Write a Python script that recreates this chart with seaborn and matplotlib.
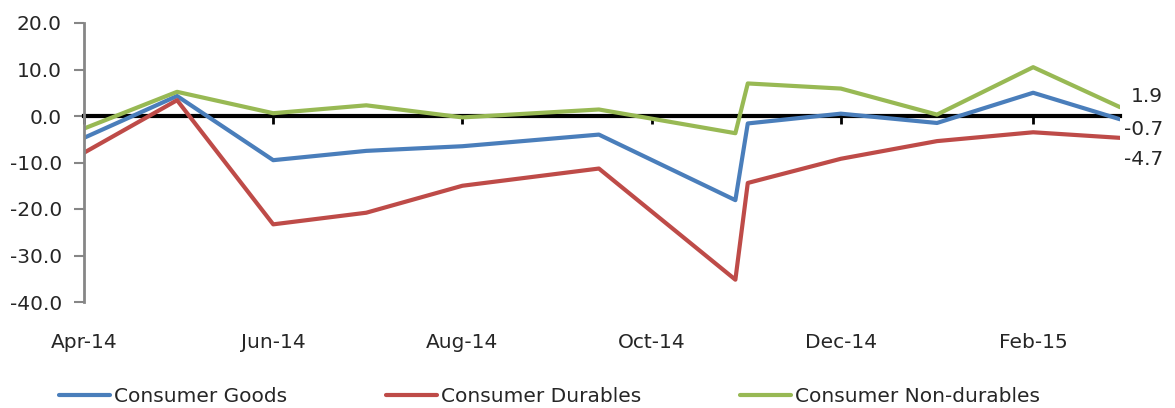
import pandas as pd
import matplotlib.pyplot as plt
import matplotlib.dates as mdates
import seaborn as sns

# monthly growth rates (%)
dates = pd.to_datetime(["2014-04-01", "2014-05-01", "2014-06-01", "2014-07-01",
                        "2014-08-01", "2014-09-14", "2014-10-28", "2014-11-01",
                        "2014-12-01", "2015-01-01", "2015-02-01", "2015-03-01"])
goods = [-4.7, 4.3, -9.5, -7.5, -6.5, -4.0, -18.1, -1.6, 0.5, -1.5, 5.0, -0.7]
durables = [-7.9, 3.4, -23.3, -20.8, -15.0, -11.3, -35.2, -14.4, -9.2, -5.4, -3.5, -4.7]
non_durables = [-2.7, 5.2, 0.6, 2.3, -0.3, 1.4, -3.7, 7.0, 5.9, 0.3, 10.5, 1.9]
series = ["Consumer Goods", "Consumer Durables", "Consumer Non-durables"]
colors = ["#4A7EBB", "#BE4B48", "#98B954"]

df = pd.DataFrame({"date": list(dates) * 3,
                   "value": goods + durables + non_durables,
                   "series": [s for s in series for _ in dates]})

sns.set_style("white")
plt.rcParams["font.family"] = ["DejaVu Sans"]
fs = 14.5

fig = plt.figure(figsize=(11.75, 4.08), dpi=100)
ax = fig.add_axes([84 / 1175, 1 - 302 / 408, 1036 / 1175, 279 / 408])

sns.lineplot(data=df, x="date", y="value", hue="series", hue_order=series,
             palette=colors, linewidth=3, ax=ax)

ax.set_xlim(dates[0], dates[-1])
ax.set_ylim(-40, 20)
ax.set_yticks(range(-40, 21, 10))
ax.yaxis.set_major_formatter(plt.FuncFormatter(lambda v, p: f"{v:.1f}"))
ax.set_xlabel("")
ax.set_ylabel("")

for s in ["top", "right"]:
    ax.spines[s].set_visible(False)
ax.spines["left"].set_color("#868686")
ax.spines["left"].set_linewidth(2)
ax.spines["bottom"].set_position(("data", 0))
ax.spines["bottom"].set_color("black")
ax.spines["bottom"].set_linewidth(3)
ax.spines["bottom"].set_zorder(1)

ax.xaxis.set_major_locator(mdates.MonthLocator(bymonth=[2, 4, 6, 8, 10, 12]))
ax.tick_params(axis="x", direction="out", length=6, width=2, color="black",
               labelbottom=False, bottom=True)
ax.tick_params(axis="y", direction="out", length=7, width=1.5, color="#868686",
               labelsize=fs, pad=9, left=True)

sec = ax.secondary_xaxis(-0.09)
sec.xaxis.set_major_locator(mdates.MonthLocator(bymonth=[2, 4, 6, 8, 10, 12]))
sec.xaxis.set_major_formatter(mdates.DateFormatter("%b-%y"))
sec.spines["bottom"].set_visible(False)
sec.tick_params(length=0, labelsize=fs, pad=4)

# end-of-series labels
offsets = [-10, -22, 11]
for vals, off in zip([goods, durables, non_durables], offsets):
    ax.annotate(f"{vals[-1]:.1f}", xy=(dates[-1], vals[-1]),
                xytext=(43, off), textcoords="offset pixels",
                ha="right", va="center", fontsize=fs)

handles, labels = ax.get_legend_handles_labels()
ax.legend(handles, labels, loc="center", bbox_to_anchor=(0.4493, -0.339),
          ncol=3, frameon=False, fontsize=fs, handlelength=2.55,
          handletextpad=0.2, columnspacing=4.9, borderaxespad=0)

fig.savefig("out.png", dpi=100)
